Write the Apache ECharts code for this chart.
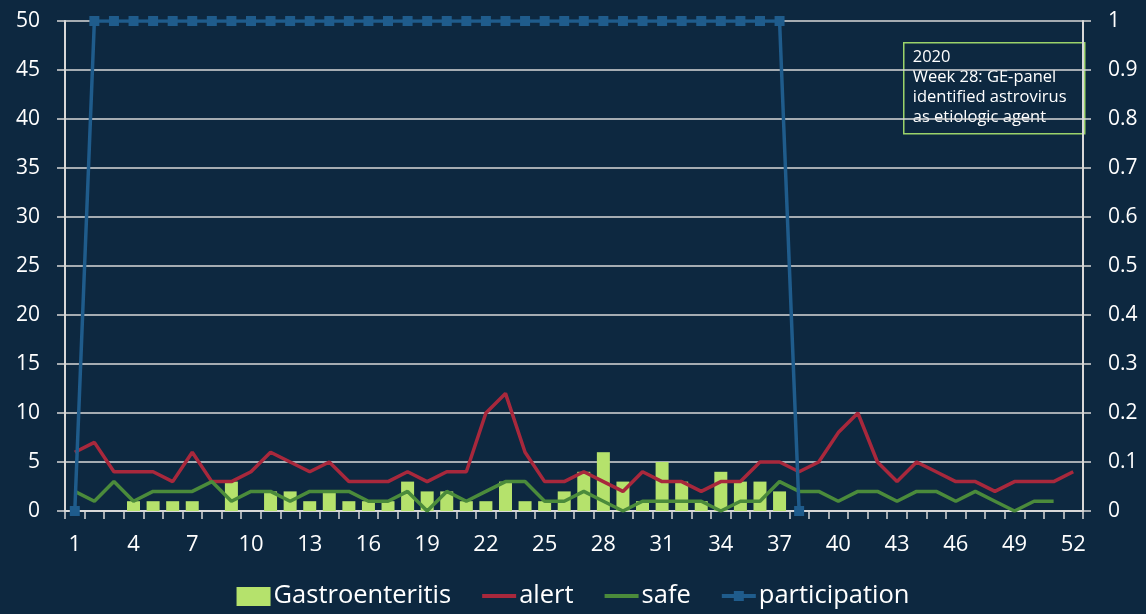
<!DOCTYPE html>
<html>
<head>
<meta charset="utf-8">
<script src="https://cdn.jsdelivr.net/npm/echarts@6/dist/echarts.min.js"></script>
<style>
html,body{margin:0;padding:0;background:#0d2840;}
#c{width:1146px;height:614px;}
</style>
</head>
<body>
<div id="c"></div>
<script>
var weeks = [];
for (var i = 1; i <= 52; i++) weeks.push(String(i));

var gastro = [0,0,0,1,1,1,1,0,3,0, 2,2,1,2,1,1,1,3,2,2, 1,1,3,1,1,2,4,6,3,1, 5,3,1,4,3,3,2,null,null,null, null,null,null,null,null,null,null,null,null,null, null,null];
var alertVals = [6,7,4,4,4,3,6,3,3,4, 6,5,4,5,3,3,3,4,3,4, 4,10,12,6,3,3,4,3,2,4, 3,3,2,3,3,5,5,4,5,8, 10,5,3,5,4,3,3,2,3,3, 3,4];
var safeVals = [2,1,3,1,2,2,2,3,1,2, 2,1,2,2,2,1,1,2,0,2, 1,2,3,3,1,1,2,1,0,1, 1,1,1,0,1,1,3,2,2,1, 2,2,1,2,2,1,2,1,0,1, 1,null];
var participation = [0,1,1,1,1,1,1,1,1,1, 1,1,1,1,1,1,1,1,1,1, 1,1,1,1,1,1,1,1,1,1, 1,1,1,1,1,1,1,0,null,null, null,null,null,null,null,null,null,null,null,null, null,null];
var noteLines = ['2020', 'Week 28: GE-panel', 'identified astrovirus', 'as etiologic agent'];

var FONT = 'Open Sans';
var LINE = '#d8d8d8';
var ICON_LINE = 'path://M0,0 M34,20 M0,8H34V12H0Z';
var ICON_LINE_SQ = 'path://M0,0 M34,20 M0,8H34V12H0Z M12,5H22V15H12Z';
var ICON_BOX = 'path://M0,0 M34,20 M0,1H34V20H0Z';
var chart = echarts.init(document.getElementById('c'));
chart.setOption({
  backgroundColor: '#0d2840',
  textStyle: {fontFamily: FONT},
  animation: false,
  grid: {left: 65, right: 63, top: 21, bottom: 103, containLabel: false},
  legend: {
    bottom: 0, left: 'center',
    itemWidth: 34, itemHeight: 20, itemGap: 31,
    textStyle: {color: '#ffffff', fontSize: 25.5, fontFamily: FONT, padding: [0, 0, 0, -2]},
    data: [
      {name: 'Gastroenteritis', icon: ICON_BOX},
      {name: 'alert', icon: ICON_LINE},
      {name: 'safe', icon: ICON_LINE},
      {name: 'participation', icon: ICON_LINE_SQ}
    ]
  },
  xAxis: {
    type: 'category', data: weeks, boundaryGap: true,
    axisLine: {lineStyle: {color: LINE, width: 2}},
    axisTick: {show: true, interval: 0, length: 8, lineStyle: {color: LINE, width: 1.5}},
    axisLabel: {interval: 2, color: '#ffffff', fontSize: 22, margin: 23}
  },
  yAxis: [{
    type: 'value', min: 0, max: 50, interval: 5,
    axisLine: {show: true, lineStyle: {color: LINE, width: 2}},
    axisTick: {show: true, length: 8, lineStyle: {color: LINE, width: 1.5}},
    axisLabel: {color: '#ffffff', fontSize: 21, margin: 25},
    splitLine: {lineStyle: {color: LINE, width: 1.5}}
  }, {
    type: 'value', min: 0, max: 1, interval: 0.1,
    axisLine: {show: true, lineStyle: {color: LINE, width: 2}},
    axisTick: {show: true, length: 8, lineStyle: {color: LINE, width: 1.5}},
    axisLabel: {color: '#ffffff', fontSize: 21, margin: 25},
    splitLine: {show: false}
  }],
  series: [{
    name: 'Gastroenteritis', type: 'bar', data: gastro, barWidth: 13,
    itemStyle: {color: '#b5e26c'}, z: 1
  }, {
    name: 'alert', type: 'line', data: alertVals, symbol: 'none',
    lineStyle: {color: '#a8283c', width: 3.5}, itemStyle: {color: '#a8283c'}, z: 3
  }, {
    name: 'safe', type: 'line', data: safeVals, symbol: 'none',
    lineStyle: {color: '#4b8b3b', width: 3.5}, itemStyle: {color: '#4b8b3b'}, z: 3
  }, {
    name: 'participation', type: 'line', yAxisIndex: 1, data: participation,
    symbol: 'rect', symbolSize: 10, showAllSymbol: true,
    lineStyle: {color: '#1f5c8c', width: 3.5}, itemStyle: {color: '#1f5c8c'}, z: 4
  }],
  graphic: [{
    type: 'group', left: 903, top: 42,
    children: [{
      type: 'rect', shape: {x: 0, y: 0, width: 181, height: 91},
      style: {fill: '#0d2840', stroke: '#9bd36a', lineWidth: 1.5}
    }, {
      type: 'text', left: 9, top: 5,
      style: {text: noteLines.join('\n'), fill: '#ffffff', font: '16.5px "Open Sans"', lineHeight: 20}
    }]
  }]
});
</script>
</body>
</html>
